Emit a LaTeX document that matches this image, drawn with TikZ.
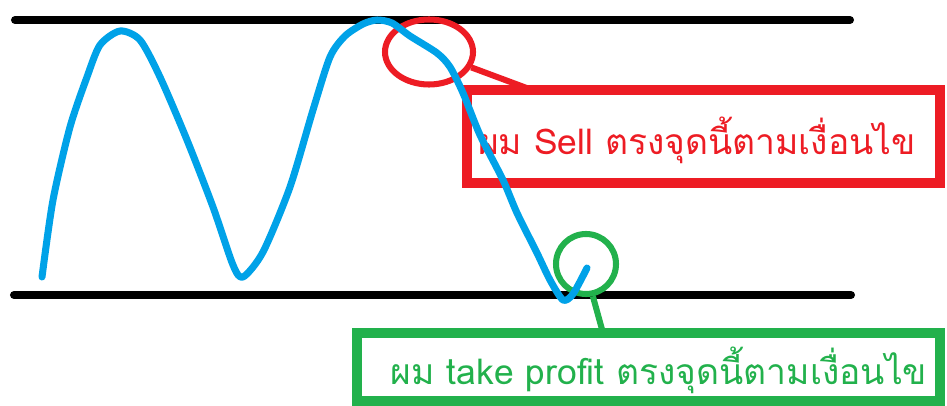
\documentclass[tikz,border=0pt]{standalone}
\usepackage{fontspec}
\usetikzlibrary{shapes.geometric}
\usetikzlibrary{positioning}
\newfontfamily\thaifont[Script=Thai]{Loma}
\definecolor{paintBlue}{RGB}{0, 162, 232}
\definecolor{paintRed}{RGB}{237, 28, 36}
\definecolor{paintGreen}{RGB}{34, 177, 76}
\tikzset{
    level/.style={draw=black, line width=5.7pt, line cap=round},
    wave/.style={draw=paintBlue, line width=5pt, line cap=round, line join=round},
    sellring/.style={ellipse, draw=paintRed, line width=4.3pt, minimum width=88*0.025cm, minimum height=65*0.025cm, inner sep=0pt},
    tpring/.style={circle, draw=paintGreen, line width=4.3pt, minimum size=60*0.025cm, inner sep=0pt},
    sellbox/.style={rectangle, draw=paintRed, line width=7pt, minimum width=473*0.025cm, minimum height=93*0.025cm, inner sep=0pt},
    tpbox/.style={rectangle, draw=paintGreen, line width=7pt, minimum width=583*0.025cm, minimum height=68*0.025cm, inner sep=0pt},
    note/.style={font=\thaifont\fontsize{25.2}{29}\selectfont, inner sep=0pt}
}

\begin{document}
\begin{tikzpicture}[x=0.025cm, y=-0.025cm]
    \useasboundingbox (0,0) rectangle (947,406);

    % Draw the two channel lines
    \draw[level] (15,20) -- (850,20);
    \draw[level] (14,295) -- (851,295);

    % Boxes with the notes
    \node[sellbox] (sell) at (703.5,136.5) {};
    \node[note, text=paintRed] (selltext) at (697,140) {ผม Sell ตรงจุดนี้ตามเงื่อนไข};
    \node[tpbox] (tp) at (648.5,367) {};
    \node[note, text=paintGreen] (tptext) at (659,370) {ผม take profit ตรงจุดนี้ตามเงื่อนไข};

    % Marks on the price line
    \node[sellring] (ring) at (429,52) {};
    \node[tpring] (tpmark) at (586,264) {};
    \coordinate (sellpin) at (532,90);
    \coordinate (tppin) at (603,333);
    \draw[draw=paintRed, line width=4.3pt] (ring.-20) -- (sellpin);
    \draw[draw=paintGreen, line width=4.3pt] (tpmark.-78) -- (tppin);

    % Draw the price line
    \draw[wave] plot[smooth, tension=0.45] coordinates {
        (42,277) (53,200) (70,127) (87,77) (100,45) (120,31) (140,40)
        (160,77) (187,140) (213,207) (233,265) (243,277) (263,252)
        (290,187) (313,110) (330,57) (345,36) (363,24) (377,20) (392,23)
        (410,36) (437,53) (450,67) (463,93) (480,135) (503,180) (517,213)
        (537,253) (550,280) (563,300) (573,294) (587,268)};
\end{tikzpicture}
\end{document}
